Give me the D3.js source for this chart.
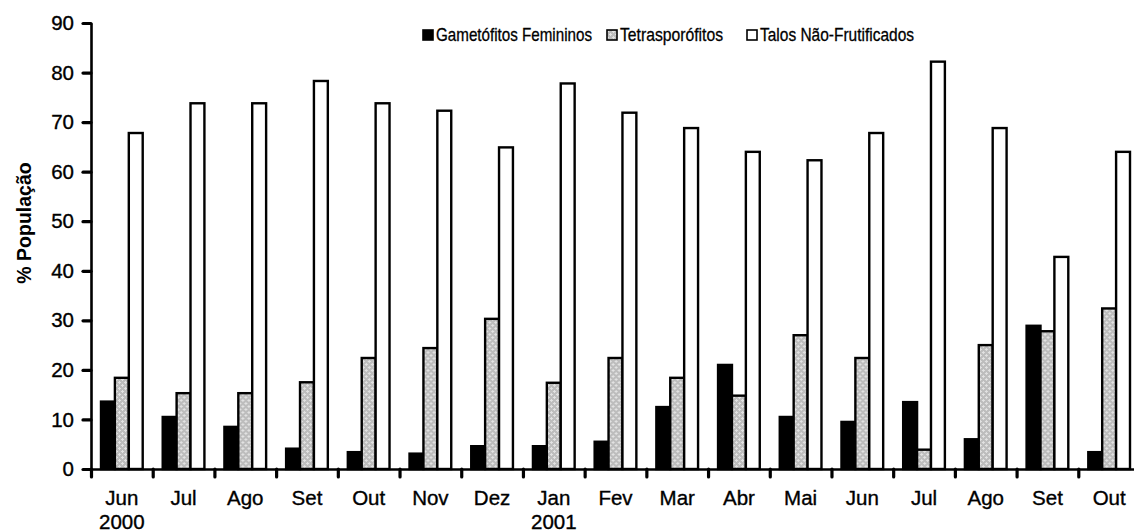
<!DOCTYPE html>
<html>
<head>
<meta charset="utf-8">
<script src="https://cdn.jsdelivr.net/npm/d3@7"></script>
<style>
  body { margin: 0; background: #fff; }
  svg { display: block; font-family: "Liberation Sans", Arial, sans-serif; }
</style>
</head>
<body>
<div id="chart"></div>
<script>
// Data
const months = ["Jun", "Jul", "Ago", "Set", "Out", "Nov", "Dez", "Jan", "Fev", "Mar", "Abr", "Mai", "Jun", "Jul", "Ago", "Set", "Out"];
const years = ["2000", "", "", "", "", "", "", "2001", "", "", "", "", "", "", "", "", ""];
const gametofitos = [13.6, 10.5, 8.5, 4.1, 3.4, 3.1, 4.6, 4.6, 5.5, 12.5, 21, 10.5, 9.5, 13.5, 6, 28.9, 3.4];
const tetrasporofitos = [18.4, 15.3, 15.3, 17.5, 22.4, 24.4, 30.3, 17.4, 22.4, 18.4, 14.8, 27, 22.4, 3.9, 25, 27.8, 32.4];
const naoFrutificados = [67.8, 73.8, 73.8, 78.3, 73.8, 72.3, 64.9, 77.8, 71.9, 68.8, 64, 62.3, 67.8, 82.2, 68.8, 42.8, 64];
const seriesNames = ["Gametófitos Femininos", "Tetrasporófitos", "Talos Não-Frutificados"];
const yTicks = [0, 10, 20, 30, 40, 50, 60, 70, 80, 90];

const W = 1134, H = 532;
const margin = { left: 91, top: 23, bottom: 63 };
const plotRight = 1140;   // the last group runs slightly past the picture edge

const svg = d3.select("#chart").append("svg")
    .attr("width", W)
    .attr("height", H);

// Dotted gray fill for the tetrasporophytes
const defs = svg.append("defs");
const pat = defs.append("pattern")
    .attr("id", "hatch")
    .attr("patternUnits", "userSpaceOnUse")
    .attr("width", 6)
    .attr("height", 6);
pat.append("rect").attr("width", 6).attr("height", 6).attr("fill", "#bdbdbd");
// small light crosses on a staggered grid
[[1, 1], [4, 4]].forEach(([cx, cy]) => {
    pat.append("rect").attr("x", cx - 1).attr("y", cy).attr("width", 3).attr("height", 1).attr("fill", "#e2e2e2");
    pat.append("rect").attr("x", cx).attr("y", cy - 1).attr("width", 1).attr("height", 3).attr("fill", "#e2e2e2");
});

const fills = ["#000", "url(#hatch)", "#fff"];

// Scales
const idx = months.map((m, i) => i);
const x0 = d3.scaleBand().domain(idx).range([margin.left, plotRight]).padding(0);
const x1 = d3.scaleBand().domain([0, 1, 2]).range([10, x0.bandwidth() - 10]).padding(0);
const xEdge = d3.scaleLinear().domain([0, months.length]).range([margin.left, plotRight]);
const y = d3.scaleLinear().domain([0, 90]).range([H - margin.bottom, margin.top]);

const rows = idx.map(i => [gametofitos[i], tetrasporofitos[i], naoFrutificados[i]]);

// Bars
const groups = svg.append("g").selectAll("g")
    .data(rows)
    .join("g")
    .attr("transform", (d, i) => `translate(${x0(i)},0)`);

groups.selectAll("rect")
    .data(d => d.map((v, k) => ({ k, v })))
    .join("rect")
    .attr("x", d => x1(d.k))
    .attr("y", d => y(d.v))
    .attr("width", x1.bandwidth())
    .attr("height", d => y(0) - y(d.v))
    .attr("fill", d => fills[d.k])
    .attr("stroke", "#000")
    .attr("stroke-width", 2.4);

const labelFont = "'Liberation Sans', Arial, sans-serif";

// Y axis
const yAxis = svg.append("g")
    .attr("transform", `translate(${margin.left},0)`)
    .call(d3.axisLeft(y).tickValues(yTicks).tickSize(8).tickSizeOuter(0).tickPadding(9));
yAxis.select(".domain").attr("stroke-width", 2.6);
yAxis.selectAll(".tick line").attr("stroke-width", 3.2).attr("stroke-linecap", "round");
yAxis.selectAll(".tick text").attr("font-size", 20.5).attr("fill", "#000")
    .attr("stroke", "#000").attr("stroke-width", 0.35)
    .attr("font-family", labelFont);

// X axis: boundary ticks
const xTickAxis = svg.append("g")
    .attr("transform", `translate(0,${y(0)})`)
    .call(d3.axisBottom(xEdge).tickValues(d3.range(0, months.length)).tickSize(8).tickSizeOuter(0).tickFormat(""));
xTickAxis.select(".domain").attr("stroke-width", 2.6);
xTickAxis.selectAll(".tick line").attr("stroke-width", 3.2).attr("stroke-linecap", "round");

// X axis: category labels
const xLab = svg.append("g")
    .attr("transform", `translate(0,${y(0)})`)
    .call(d3.axisBottom(x0).tickSize(0).tickFormat(""));
xLab.select(".domain").remove();
xLab.selectAll(".tick").each(function(i) {
    const t = d3.select(this).append("text")
        .attr("fill", "#000")
        .attr("stroke", "#000").attr("stroke-width", 0.35)
        .attr("font-size", 20.5)
        .attr("text-anchor", "middle")
        .attr("font-family", labelFont);
    t.append("tspan").attr("x", 0).attr("y", 36).text(months[i]);
    if (years[i]) t.append("tspan").attr("x", 0).attr("y", 60).text(years[i]);
});

// Y axis title
svg.append("text")
    .attr("transform", "translate(31,223) rotate(-90)")
    .attr("text-anchor", "middle")
    .attr("font-size", 19.5)
    .attr("font-weight", "bold")
    .text("% População");

// Legend
const legendX = [422, 606, 746];
const legendW = [156, 103, 154];
const legend = svg.append("g");
seriesNames.forEach((name, k) => {
    legend.append("rect")
        .attr("x", legendX[k] + 1)
        .attr("y", 30)
        .attr("width", 10)
        .attr("height", 10)
        .attr("fill", fills[k])
        .attr("stroke", "#000")
        .attr("stroke-width", 1.6);
    legend.append("text")
        .attr("x", legendX[k] + 14)
        .attr("y", 41)
        .attr("font-size", 18.5)
        .attr("stroke", "#000").attr("stroke-width", 0.3)
        .attr("textLength", legendW[k])
        .attr("lengthAdjust", "spacingAndGlyphs")
        .text(name);
});
</script>
</body>
</html>
